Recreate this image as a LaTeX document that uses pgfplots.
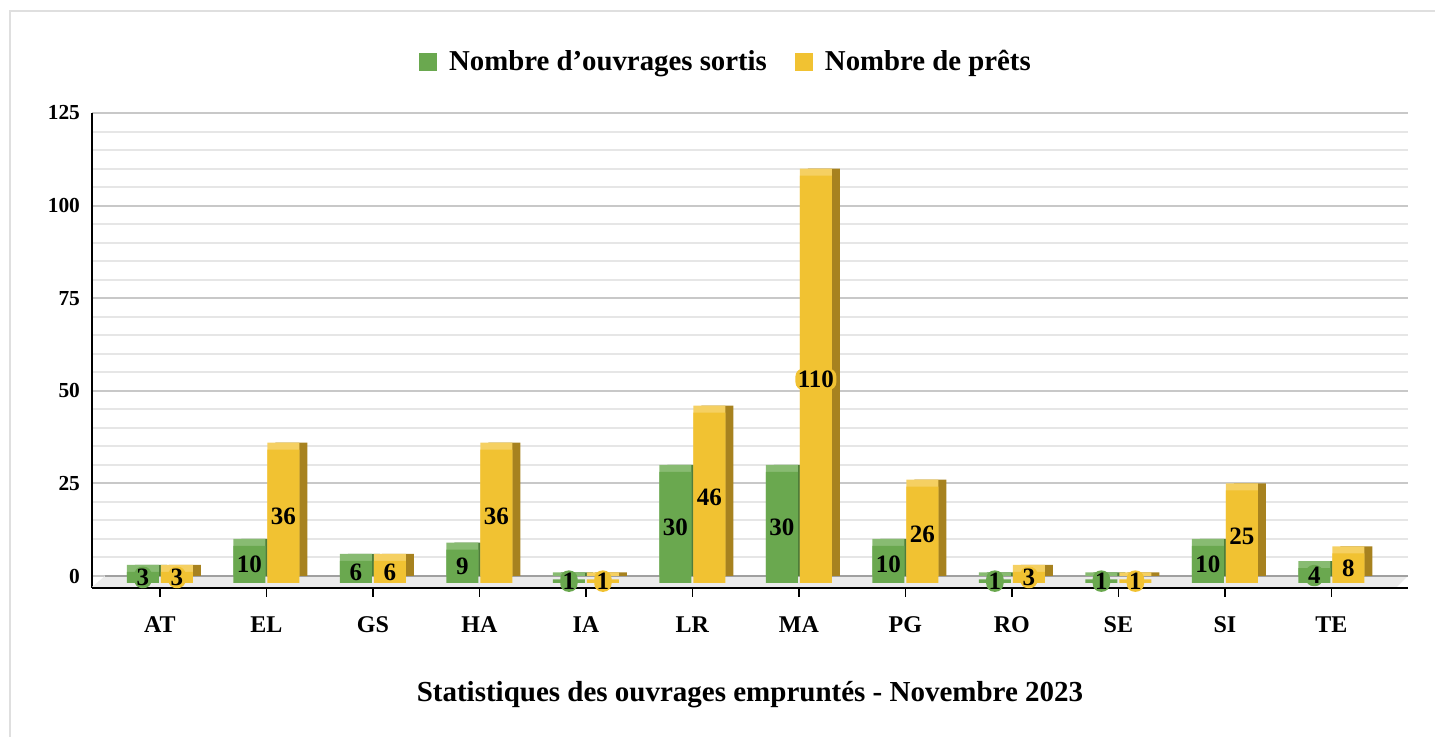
\documentclass[border=0pt]{standalone}
\usepackage{pgfplots}
\pgfplotsset{compat=1.18}
\usepackage{pgfplotstable}
\usepackage{fontspec}
\setmainfont{Liberation Serif}

\definecolor{gfront}{HTML}{6AA84F}
\definecolor{gtop}{HTML}{88BB72}
\definecolor{gside}{HTML}{4E7D3A}
\definecolor{yfront}{HTML}{F1C232}
\definecolor{ytop}{HTML}{F5D062}
\definecolor{yside}{HTML}{A7821F}
\definecolor{floorgray}{HTML}{EBEBEB}
\definecolor{majgrid}{HTML}{C8C8C8}
\definecolor{mingrid}{HTML}{E6E6E6}

\pgfplotstableread{
x cat g y
0 AT 3 3
1 EL 10 36
2 GS 6 6
3 HA 9 36
4 IA 1 1
5 LR 30 46
6 MA 30 110
7 PG 10 26
8 RO 1 3
9 SE 1 1
10 SI 10 25
11 TE 4 8
}\data

\begin{document}
\begin{tikzpicture}
\begin{axis}[
  at={(46pt,74.5pt)}, anchor=south west,
  scale only axis, width=658pt, height=237.5pt,
  xmin=-0.638, xmax=11.72, ymin=-3.24, ymax=125,
  axis x line*=bottom, axis y line*=left,
  axis line style={black, line width=1pt},
  xtick={0,...,11},
  xticklabels={AT,EL,GS,HA,IA,LR,MA,PG,RO,SE,SI,TE},
  xtick style={black, line width=0.75pt},
  major tick length=9pt, tick align=center,
  ytick={0,25,...,125}, minor y tick num=4,
  ytick style={draw=none}, minor tick length=0pt,
  ymajorgrids, yminorgrids,
  major grid style={majgrid, line width=1pt},
  minor grid style={mingrid, line width=1pt},
  /pgf/number format/assume math mode=true,
  yticklabel style={font=\bfseries\fontsize{10.7}{12}\selectfont, xshift=2pt},
  xticklabel style={font=\bfseries\fontsize{12}{14}\selectfont, yshift=-6.5pt},
  xlabel={Statistiques des ouvrages empruntés - Novembre 2023},
  xlabel style={at={(axis description cs:0.5,-0.225)}, anchor=center,
    font=\bfseries\fontsize{14.5}{17}\selectfont},
  legend columns=2,
  legend style={draw=none, fill=none, at={(0.4825,1.107)}, anchor=center,
    font=\bfseries\fontsize{14.4}{17}\selectfont,
    /tikz/every even column/.append style={column sep=12pt}},
  legend image code/.code={\fill[#1] (0pt,-4.5pt) rectangle (9pt,4.5pt); \path (13pt,0pt);},
]
% floor
\fill[floorgray] (axis cs:-0.638,-2.95) -- (axis cs:-0.516,0) -- (axis cs:11.72,0) -- (axis cs:11.615,-2.95) -- cycle;
\draw[majgrid!80!black, line width=0.8pt] (axis cs:-0.516,0) -- (axis cs:11.72,0);

% green bars
\addplot[forget plot, ybar, bar width=16pt, bar shift=-8.5pt, fill=gside, draw=none, xshift=4pt] table[x=x,y=g]{\data};
\addplot[forget plot, ybar, bar width=16pt, bar shift=-8.5pt, fill=gtop, draw=none] table[x=x,y=g]{\data};
\addplot[forget plot, ybar, bar width=16pt, bar shift=-8.5pt, fill=gfront, draw=none, yshift=-3.5pt] table[x=x,y=g]{\data};
% yellow bars
\addplot[forget plot, ybar, bar width=16pt, bar shift=8.5pt, fill=yside, draw=none, xshift=4pt] table[x=x,y=y]{\data};
\addplot[forget plot, ybar, bar width=16pt, bar shift=8.5pt, fill=ytop, draw=none] table[x=x,y=y]{\data};
\addplot[forget plot, ybar, bar width=16pt, bar shift=8.5pt, fill=yfront, draw=none, yshift=-3.5pt] table[x=x,y=y]{\data};

% labels
\addplot[forget plot, draw=none, mark=none, xshift=-8.5pt, yshift=-3.5pt,
  nodes near coords, point meta=explicit,
  nodes near coords style={anchor=center, fill=gfront, inner sep=1.2pt, rounded corners=4pt,
    font=\bfseries\fontsize{12.5}{14}\selectfont, text=black}]
  table[x=x, y expr=\thisrow{g}/2, meta=g]{\data};
\addplot[forget plot, draw=none, mark=none, xshift=8.5pt, yshift=-3.5pt,
  nodes near coords, point meta=explicit,
  nodes near coords style={anchor=center, fill=yfront, inner sep=1.2pt, rounded corners=4pt,
    font=\bfseries\fontsize{12.5}{14}\selectfont, text=black}]
  table[x=x, y expr=\thisrow{y}/2, meta=y]{\data};

\addlegendimage{fill=gfront, draw=none}
\addlegendentry{Nombre d’ouvrages sortis}
\addlegendimage{fill=yfront, draw=none}
\addlegendentry{Nombre de prêts}
\end{axis}
\draw[gray!25, line width=0.6pt] (5pt,0pt) -- (5pt,363pt) -- (717.5pt,363pt);
\pgfresetboundingbox
\path[use as bounding box] (0pt,0pt) rectangle (717.5pt,368.5pt);
\end{tikzpicture}
\end{document}
